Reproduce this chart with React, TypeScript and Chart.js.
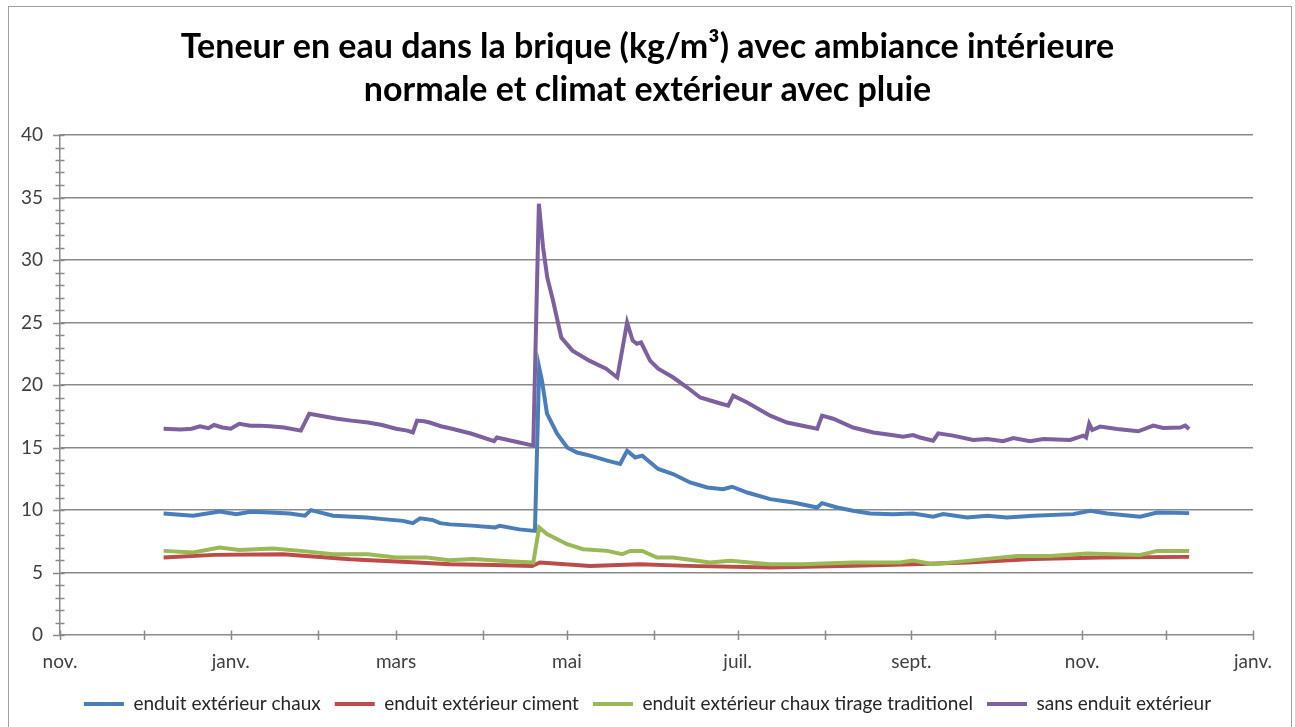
import { useEffect, useRef } from 'react';
import { Chart, registerables } from 'chart.js';
Chart.register(...registerables);

const titleLines = [
  'Teneur en eau dans la brique (kg/m³) avec ambiance intérieure',
  'normale et climat extérieur avec pluie',
];
const seriesNames = [
  'enduit extérieur chaux',
  'enduit extérieur ciment',
  'enduit extérieur chaux tirage traditionel',
  'sans enduit extérieur',
];
const seriesColors = ['#4A7EBB', '#BE4B48', '#98B954', '#7D60A0'];

// x = days counted from 1 November
const monthStarts = [0, 30, 61, 92, 120, 151, 181, 212, 242, 273, 304, 334, 365, 395, 426];
const monthLabels = ['nov.', '', 'janv.', '', 'mars', '', 'mai', '', 'juil.', '', 'sept.', '', 'nov.', '', 'janv.'];

const blueDays = [37, 47.5, 57, 63, 68, 75, 82, 87.5, 89.6, 97.5, 109.6, 115.4, 122.5, 126, 128.6, 133.2, 135.7, 139.3, 147, 155.4, 157, 164, 169.6, 171.1, 172.1, 173.9, 177.5, 181.1, 184.6, 189.3, 195.4, 200, 202.5, 204.6, 205.4, 207.9, 213.6, 218.9, 225, 231.1, 236.8, 240, 245.4, 253.6, 261.8, 270.4, 272.1, 277.5, 283.2, 289.3, 297.5, 304.6, 311.8, 315.4, 323.9, 331.1, 338.2, 347.5, 361.8, 367.9, 373.9, 385.7, 391.8, 403.2];
const blueValues = [9.72, 9.54, 9.88, 9.67, 9.86, 9.8, 9.72, 9.54, 9.99, 9.54, 9.4, 9.27, 9.13, 8.95, 9.33, 9.19, 8.95, 8.85, 8.75, 8.6, 8.73, 8.45, 8.33, 21.4, 20.35, 17.7, 16.1, 15.0, 14.6, 14.35, 13.95, 13.68, 14.74, 14.35, 14.2, 14.35, 13.28, 12.88, 12.2, 11.8, 11.67, 11.86, 11.4, 10.87, 10.6, 10.2, 10.55, 10.2, 9.94, 9.72, 9.67, 9.72, 9.46, 9.67, 9.4, 9.54, 9.4, 9.54, 9.67, 9.94, 9.72, 9.46, 9.8, 9.75];

const redDays = [37, 55, 79.6, 103.6, 127.5, 139.3, 155, 168.6, 171.4, 189.3, 207, 223.9, 253.6, 283.2, 304.6, 323.9, 347.5, 371.4, 403.2];
const redValues = [6.2, 6.41, 6.46, 6.06, 5.8, 5.66, 5.6, 5.53, 5.8, 5.53, 5.66, 5.53, 5.4, 5.53, 5.66, 5.8, 6.07, 6.2, 6.25];

const greenDays = [37, 47.5, 57, 64, 76, 86, 97.5, 110, 120, 131, 139, 147.5, 160, 169, 171.1, 173.9, 181.1, 186.8, 195.4, 200.7, 203.6, 207.9, 213.2, 218.9, 232.1, 239.3, 253.6, 265.4, 283.2, 300, 304.6, 311.8, 323.9, 341.8, 353.6, 366.8, 385.7, 391.8, 403.2];
const greenValues = [6.73, 6.6, 7.0, 6.81, 6.92, 6.73, 6.46, 6.46, 6.2, 6.2, 5.98, 6.07, 5.9, 5.8, 8.6, 8.07, 7.26, 6.86, 6.73, 6.46, 6.73, 6.73, 6.2, 6.2, 5.8, 5.93, 5.66, 5.66, 5.8, 5.8, 5.95, 5.66, 5.93, 6.33, 6.33, 6.52, 6.41, 6.73, 6.73];

const purpleDays = [37, 43, 47, 50, 53, 55, 58, 61, 64, 68, 71, 75, 80, 86, 89, 94, 99, 104, 110, 115, 120, 124, 126, 127.5, 130, 132, 136, 140, 147, 155, 156, 158, 164, 169, 171, 172.5, 174, 176, 179, 183, 189, 195, 199, 202.5, 204.5, 206, 207.5, 210.7, 213.6, 219, 224, 228.6, 234.6, 238.6, 240.4, 245.4, 253.6, 259.6, 266, 270.4, 272.1, 276.1, 283.2, 290.4, 297, 301, 304.6, 307.1, 311.8, 313.6, 318.9, 326.1, 331.1, 336.8, 340.4, 346.4, 351.1, 360.7, 365.4, 366.4, 367.5, 368.6, 371.4, 377.5, 385, 390.4, 393.9, 400, 401.8, 403.2];
const purpleValues = [16.5, 16.45, 16.5, 16.7, 16.55, 16.8, 16.6, 16.5, 16.9, 16.75, 16.75, 16.7, 16.6, 16.35, 17.7, 17.5, 17.3, 17.15, 17.0, 16.8, 16.5, 16.35, 16.2, 17.15, 17.1, 17.0, 16.7, 16.5, 16.1, 15.5, 15.8, 15.7, 15.4, 15.15, 34.5, 31.0, 28.6, 26.8, 23.8, 22.75, 21.95, 21.3, 20.6, 25.0, 23.55, 23.3, 23.4, 21.95, 21.3, 20.6, 19.8, 19.0, 18.6, 18.35, 19.15, 18.6, 17.55, 17.0, 16.7, 16.5, 17.55, 17.3, 16.6, 16.2, 16.0, 15.87, 16.0, 15.8, 15.55, 16.13, 15.95, 15.6, 15.68, 15.5, 15.76, 15.5, 15.68, 15.6, 15.95, 15.8, 16.9, 16.4, 16.67, 16.48, 16.3, 16.75, 16.56, 16.6, 16.75, 16.48];

const seriesDays = [blueDays, redDays, greenDays, purpleDays];
const seriesValues = [blueValues, redValues, greenValues, purpleValues];

const FONT = "Lato, 'Liberation Sans', sans-serif";
const AXIS_GRAY = '#8a8a8a';

const crossTicks = {
  id: 'crossTicks',
  beforeDatasetsDraw(chart: any) {
    const { ctx, chartArea, scales } = chart;
    const xs = scales.x;
    const ys = scales.y;
    ctx.save();
    ctx.strokeStyle = AXIS_GRAY;
    ctx.lineWidth = 1.5;
    ctx.beginPath();
    ys.ticks.forEach((t: any) => {
      const py = Math.round(ys.getPixelForValue(t.value)) + 0.5;
      const major = t.value % 5 === 0;
      ctx.moveTo(chartArea.left - (major ? 7 : 4.5), py);
      ctx.lineTo(chartArea.left + 4.5, py);
    });
    xs.ticks.forEach((t: any) => {
      const px = Math.round(xs.getPixelForValue(t.value)) + 0.5;
      ctx.moveTo(px, chartArea.bottom - 4.5);
      ctx.lineTo(px, chartArea.bottom + 5);
    });
    ctx.stroke();
    ctx.restore();
  },
};

export default function App() {
  const ref = useRef<HTMLCanvasElement>(null);
  useEffect(() => {
    const chart = new Chart(ref.current as HTMLCanvasElement, {
      type: 'line',
      data: {
        datasets: seriesNames.map((name, i) => ({
          label: name,
          data: seriesDays[i].map((d, k) => ({ x: d, y: seriesValues[i][k] })),
          xAxisID: 'x',
          yAxisID: 'y',
          borderColor: seriesColors[i],
          backgroundColor: seriesColors[i],
          borderWidth: 4,
          pointRadius: 0,
          tension: 0,
          order: seriesNames.length - i,
        })),
      },
      options: {
        responsive: false,
        animation: false,
        devicePixelRatio: 1,
        layout: { padding: { left: 0, right: 0, top: 0, bottom: 3.5 } },
        plugins: {
          tooltip: { enabled: false },
          title: {
            display: true,
            text: titleLines,
            color: '#000',
            font: { family: FONT, size: 34, weight: 'bold', lineHeight: 43 / 34 },
            padding: { top: 25.5, bottom: 23.5 },
          },
          legend: {
            position: 'bottom',
            labels: {
              boxWidth: 40,
              boxHeight: 4,
              padding: 14,
              color: '#262626',
              font: { family: FONT, size: 19 },
              sort: (a: any, b: any) => a.datasetIndex - b.datasetIndex,
              generateLabels: (c: any) =>
                (Chart.defaults.plugins.legend.labels.generateLabels as any)(c).map((l: any) => ({
                  ...l,
                  lineWidth: 0,
                  fillStyle: seriesColors[l.datasetIndex],
                })),
            },
          },
        },
        scales: {
          x: {
            type: 'linear',
            min: 0,
            max: 426,
            afterFit: (s: any) => { s.height = 45.5; },
            afterBuildTicks: (s: any) => { s.ticks = monthStarts.map((v) => ({ value: v })); },
            grid: { display: false, drawTicks: false },
            border: { display: true, color: AXIS_GRAY, width: 1.5 },
            ticks: {
              autoSkip: false,
              maxRotation: 0,
              padding: 15,
              color: '#404040',
              font: { family: FONT, size: 19 },
              callback: (_v: any, i: number) => monthLabels[i],
            },
          },
          y: {
            position: 'left',
            min: 0,
            max: 40,
            afterFit: (s: any) => { s.width = 60; },
            ticks: {
              stepSize: 1,
              autoSkip: false,
              padding: 17,
              color: '#404040',
              font: { family: FONT, size: 19 },
              callback: (v: any) => (Number(v) % 5 === 0 ? String(v) : ''),
            },
            grid: {
              drawTicks: false,
              lineWidth: 1.5,
              color: (ctx: any) => (ctx.tick && ctx.tick.value % 5 === 0 && ctx.tick.value > 0 ? AXIS_GRAY : 'rgba(0,0,0,0)'),
            },
            border: { display: true, color: AXIS_GRAY, width: 1.5 },
          },
          yRightSpace: {
            type: 'linear',
            position: 'right',
            min: 0,
            max: 40,
            afterFit: (s: any) => { s.width = 42; },
            grid: { display: false, drawTicks: false },
            border: { display: false },
            ticks: { display: false },
          },
        },
      },
      plugins: [crossTicks],
    } as any);
    return () => chart.destroy();
  }, []);
  return (
    <div style={{ position: 'fixed', left: 0, top: 0, width: 1295, height: 727, background: '#fff', overflow: 'hidden' }}>
      <canvas ref={ref} width={1295} height={727} style={{ position: 'absolute', left: 0, top: 0, width: 1295, height: 727 }} />
      <div style={{ position: 'absolute', left: 8, top: 6, width: 1282, height: 760, border: '1.5px solid #a0a0a0', pointerEvents: 'none' }} />
    </div>
  );
}
